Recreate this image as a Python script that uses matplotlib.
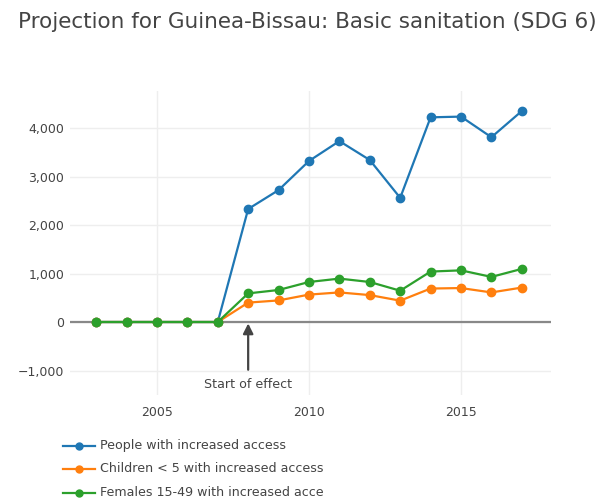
import matplotlib
matplotlib.use("Agg")
import matplotlib.pyplot as plt
from matplotlib.ticker import FuncFormatter, FixedLocator
from matplotlib.lines import Line2D
from matplotlib.patches import Rectangle

# Data
years = [2003, 2004, 2005, 2006, 2007, 2008, 2009, 2010, 2011, 2012, 2013, 2014, 2015, 2016, 2017]
people = [0, 0, 0, 0, 0, 2330, 2720, 3320, 3730, 3340, 2560, 4220, 4235, 3810, 4350]
children = [0, 0, 0, 0, 0, 400, 445, 565, 610, 555, 440, 690, 700, 610, 710]
females = [0, 0, 0, 0, 0, 590, 660, 825, 895, 825, 645, 1040, 1065, 930, 1095]

labels = ["People with increased access",
          "Children < 5 with increased access",
          "Females 15-49 with increased access"]
colors = ["#1f77b4", "#ff7f0e", "#2ca02c"]

plt.rcParams["font.family"] = ["DejaVu Sans"]
text_color = "#444444"

W, H = 608, 501
fig = plt.figure(figsize=(W / 100, H / 100), dpi=100)
ax = fig.add_axes([70 / W, 1 - 395 / H, 481 / W, 304 / H])

for vals, lab, col in zip([people, children, females], labels, colors):
    ax.plot(years, vals, color=col, lw=1.6, marker="o", ms=6, label=lab,
            solid_joinstyle="round")

ax.set_xlim(2002.14, 2017.96)
ax.set_ylim(-1505, 4763)

ax.xaxis.set_major_locator(FixedLocator([2005, 2010, 2015]))
ax.yaxis.set_major_locator(FixedLocator([-1000, 0, 1000, 2000, 3000, 4000]))
ax.yaxis.set_major_formatter(FuncFormatter(lambda v, p: f"{v:,.0f}".replace("-", "\u2212")))
ax.tick_params(length=0, labelsize=9, colors=text_color)
ax.tick_params(axis="x", pad=8)
ax.tick_params(axis="y", pad=4)
ax.grid(color="#eeeeee", lw=1)
ax.set_axisbelow(True)
for s in ax.spines.values():
    s.set_visible(False)
ax.axhline(0, color="#888888", lw=1.6, zorder=1.5)

# annotation arrow
ax.annotate("Start of effect", xy=(2008, 0), xytext=(2008, -1290),
            ha="center", va="center", fontsize=9.1, color=text_color,
            arrowprops=dict(arrowstyle="-|>", color="#444444", lw=1.6,
                            mutation_scale=15, shrinkA=4, shrinkB=1))

fig.text(18 / W, 1 - 22 / H, "Projection for Guinea-Bissau: Basic sanitation (SDG 6)",
         fontsize=15.5, color=text_color, va="center", ha="left")

# legend below the plot
for i, (lab, col) in enumerate(zip(labels, colors)):
    yy = 1 - (445.5 + i * 23.5) / H
    fig.add_artist(Line2D([63 / W, 95 / W], [yy, yy], color=col, lw=1.6,
                          transform=fig.transFigure))
    fig.add_artist(Line2D([79 / W], [yy], color=col, marker="o", ms=5,
                          transform=fig.transFigure))
    fig.text(100 / W, yy, lab, fontsize=9.05, color=text_color,
             va="center", ha="left", zorder=3)

# the original legend is cut off on the right (last row)
fig.add_artist(Rectangle((324 / W, 0), 1 - 324 / W, 1 - 481 / H,
                         transform=fig.transFigure, facecolor="white",
                         edgecolor="none", zorder=10))

fig.savefig("out.png", dpi=100)
